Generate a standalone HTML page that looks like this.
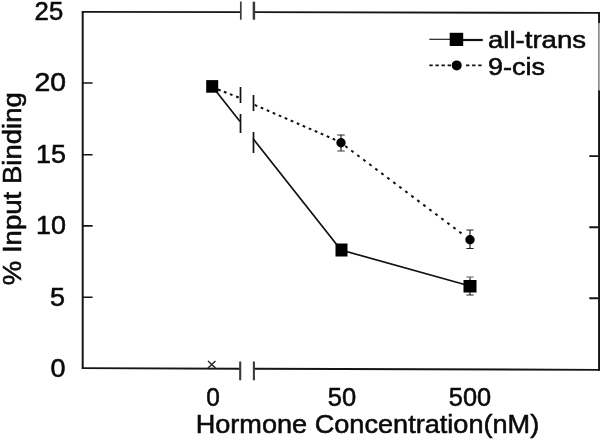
<!DOCTYPE html>
<html><head><meta charset="utf-8"><title>Chart</title>
<style>
html,body{margin:0;padding:0;background:#fff;}
svg{display:block;}
text{font-family:"Liberation Sans",Arial,Helvetica,sans-serif;fill:#0a0a0a;stroke:#0a0a0a;stroke-width:0.55px;}
</style></head><body>
<svg width="600" height="442" viewBox="0 0 600 442">
<rect width="600" height="442" fill="#fff"/>
<!-- frame -->
<g stroke="#151515" stroke-width="1.9" fill="none" stroke-linecap="butt">
<path d="M82.7 11 V369.1" stroke-width="2"/>
<path d="M81.9 11.9 L240.8 12.1"/>
<path d="M253.6 12.1 L600 12.9"/>
<path d="M81.9 368.1 L240.2 368.7"/>
<path d="M253.6 368.7 L600 369.85"/>
<path d="M599.3 12 V23" stroke-width="2.4"/>
<path d="M598.9 23 V91" stroke="#6a6a6a" stroke-width="1.3"/>
<path d="M599.3 90.5 V370.8" stroke-width="2.4"/>
<!-- axis break ticks -->
<g stroke="#3a3a3a">
<path d="M240.8 1.5 V19.7" stroke-width="1.7"/>
<path d="M253.9 1.7 V19.7" stroke-width="2.5"/>
<path d="M240.2 361.5 V380.3 M253.9 361.5 V380.3" stroke-width="2.1"/>
</g>
<!-- y ticks -->
<g stroke-width="1.6">
<path d="M83 83 H92.6 M83 154.8 H92.6 M83 225.9 H92.6 M83 297.2 H92.6"/>
<path d="M589.3 156.1 H598.5 M589.3 227.2 H598.5 M589.3 298.2 H598.5" stroke-width="1.9"/>
</g>
</g>
<!-- series -->
<g stroke="#111" stroke-width="1.7" fill="none">
<path d="M212 86 L240 121.5 M253 138.5 L341 250 L470 286"/>
<path d="M240.5 114 V133 M253.5 132 V153"/>
<path d="M240.5 87 V103 M253.5 95 V111"/>
</g>
<g stroke="#111" stroke-width="2" fill="none">
<path d="M218.00 89.45 L220.60 90.47 M223.90 91.74 L226.50 92.76 M229.90 94.07 L232.50 95.09 M236.10 96.48 L238.70 97.50"/>
<path d="M254.72 104.94 L257.28 106.06 M260.72 107.54 L263.28 108.65 M266.72 110.14 L269.28 111.25 M272.72 112.74 L275.28 113.85 M278.72 115.33 L281.28 116.45 M284.72 117.93 L287.28 119.04 M290.72 120.53 L293.28 121.64 M296.72 123.13 L299.28 124.24 M302.72 125.72 L305.28 126.84 M308.72 128.32 L311.28 129.43 M314.72 130.92 L317.28 132.03 M320.72 133.52 L323.28 134.63 M326.72 136.12 L329.28 137.23 M332.72 138.71 L335.28 139.83"/>
<path d="M345.28 146.02 L347.52 147.70 M351.28 150.53 L353.52 152.21 M357.28 155.04 L359.52 156.73 M363.28 159.55 L365.52 161.24 M369.28 164.07 L371.52 165.75 M375.28 168.58 L377.52 170.26 M381.28 173.09 L383.52 174.77 M387.28 177.60 L389.52 179.28 M393.28 182.11 L395.52 183.79 M399.28 186.62 L401.52 188.31 M405.28 191.14 L407.52 192.82 M411.28 195.65 L413.52 197.33 M417.28 200.16 L419.52 201.84 M423.28 204.67 L425.52 206.35 M429.28 209.18 L431.52 210.86 M435.28 213.69 L437.52 215.38 M441.28 218.21 L443.52 219.89 M447.28 222.72 L449.52 224.40 M453.28 227.23 L455.52 228.91 M459.28 231.74 L461.52 233.42"/>
</g>
<!-- error bars -->
<g stroke="#222" stroke-width="1.2" fill="none">
<path d="M341 135 V151 M337.3 135 H344.7"/>
<path d="M337.3 151 H344.7" stroke="#555"/>
<path d="M470 230 V248.5 M466.4 230 H473.6 M466.4 248.5 H473.6"/>
<path d="M470 277 V295 M466.4 295 H473.6"/>
<path d="M466.4 277 H473.6" stroke="#777"/>
</g>
<!-- markers -->
<g fill="#000">
<rect x="206.2" y="80.1" width="12" height="12.6"/>
<rect x="335.5" y="243.5" width="12" height="13"/>
<rect x="463.5" y="280" width="13" height="12.5"/>
<circle cx="341" cy="142.8" r="4.7"/>
<circle cx="470" cy="239.8" r="4.7"/>
</g>
<!-- x marker at origin -->
<path d="M208 361 L215.5 368 M215.5 361 L208 368" stroke="#222" stroke-width="1.4" fill="none"/>
<!-- legend -->
<path d="M429.3 39.3 H452" stroke="#222" stroke-width="1.2"/>
<path d="M460 40 H482.8" stroke="#111" stroke-width="2.2"/>
<rect x="449.7" y="32.8" width="13.5" height="13.2" fill="#000"/>
<path d="M429.3 65.4 H452 M466 65.4 H482" stroke="#111" stroke-width="1.9" stroke-dasharray="3.4 2.7"/>
<circle cx="456.7" cy="65.4" r="5" fill="#000"/>
<text x="488" y="47.8" font-size="24" textLength="98" lengthAdjust="spacingAndGlyphs">all-trans</text>
<text x="488" y="74.6" font-size="23.5" textLength="57" lengthAdjust="spacingAndGlyphs">9-cis</text>
<!-- y tick labels -->
<g font-size="25.5">
<text x="34.6" y="19.5" textLength="28.6" lengthAdjust="spacingAndGlyphs">25</text>
<text x="34.6" y="91" textLength="31.5" lengthAdjust="spacingAndGlyphs">20</text>
<text x="36" y="163" textLength="30" lengthAdjust="spacingAndGlyphs">15</text>
<text x="36" y="234" textLength="30" lengthAdjust="spacingAndGlyphs">10</text>
<text x="50" y="305.5" textLength="15" lengthAdjust="spacingAndGlyphs">5</text>
<text x="50.5" y="376.8" textLength="15" lengthAdjust="spacingAndGlyphs">0</text>
</g>
<!-- x tick labels -->
<g font-size="25.5" text-anchor="middle">
<text x="213" y="406.3" textLength="13.6" lengthAdjust="spacingAndGlyphs">0</text>
<text x="342" y="406.3" textLength="28.4" lengthAdjust="spacingAndGlyphs">50</text>
<text x="470" y="406.3" textLength="42.3" lengthAdjust="spacingAndGlyphs">500</text>
</g>
<text x="195.7" y="433.2" font-size="26" textLength="343.5" lengthAdjust="spacingAndGlyphs">Hormone Concentration(nM)</text>
<text transform="translate(20.9 285.2) rotate(-90)" font-size="25.5" textLength="193" lengthAdjust="spacingAndGlyphs">% Input Binding</text>
</svg>
</body></html>
